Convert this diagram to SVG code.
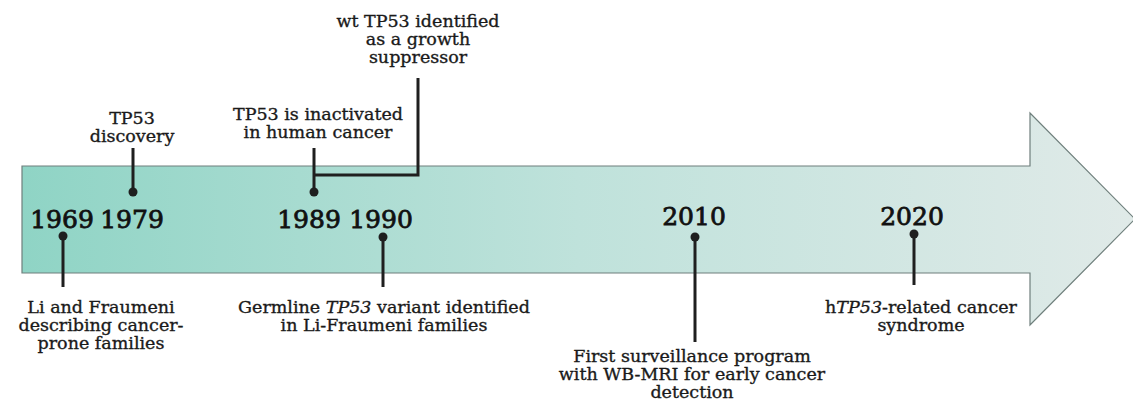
<svg xmlns="http://www.w3.org/2000/svg" width="1133" height="401" viewBox="0 0 1133 401">
<defs>
<linearGradient id="g" x1="22" y1="0" x2="1133" y2="0" gradientUnits="userSpaceOnUse">
<stop offset="0" stop-color="#8fd4c5"/>
<stop offset="0.5" stop-color="#bfe2db"/>
<stop offset="1" stop-color="#e0eae8"/>
</linearGradient>
<style>
.lbl{font-family:"DejaVu Serif","Liberation Serif",serif;font-size:17.5px;fill:#1a1a1a;text-anchor:middle;stroke:#1a1a1a;stroke-width:0.35}
.yr{font-family:"DejaVu Serif","Liberation Serif",serif;font-size:25px;fill:#111;text-anchor:middle;stroke:#111;stroke-width:0.8}
.ln{stroke:#1f1f1f;stroke-width:3;fill:none}
.dot{fill:#1f1f1f}
</style>
</defs>
<g id="arrow">
<path d="M22,166 H1030 V113 L1135,219 L1030,325 V273 H22 Z" fill="url(#g)" stroke="#6f7f7c" stroke-width="1.2"/>
</g>
<g id="connectors">
<line class="ln" x1="63" y1="236" x2="63" y2="287"/>
<circle class="dot" cx="63" cy="236" r="4.5"/>
<line class="ln" x1="133" y1="148" x2="133" y2="192"/>
<circle class="dot" cx="133" cy="192" r="4.5"/>
<polyline class="ln" points="314,148 314,192"/>
<polyline class="ln" points="314,175 418,175 418,78"/>
<circle class="dot" cx="314" cy="192" r="4.5"/>
<line class="ln" x1="383" y1="237" x2="383" y2="287"/>
<circle class="dot" cx="383" cy="237" r="4.5"/>
<line class="ln" x1="695" y1="237" x2="695" y2="342"/>
<circle class="dot" cx="695" cy="237" r="4.5"/>
<line class="ln" x1="914" y1="234" x2="914" y2="285"/>
<circle class="dot" cx="914" cy="234" r="4.5"/>
</g>
<g id="n1969">
<text class="yr" x="62" y="228">1969</text>
<text class="lbl" x="101" y="313">Li and Fraumeni</text>
<text class="lbl" x="101" y="331">describing cancer-</text>
<text class="lbl" x="101" y="349">prone families</text>
</g>
<g id="n1979">
<text class="yr" x="132" y="228">1979</text>
<text class="lbl" x="132" y="124">TP53</text>
<text class="lbl" x="132" y="142">discovery</text>
</g>
<g id="n1989">
<text class="yr" x="309" y="228">1989</text>
<text class="lbl" x="318" y="120">TP53 is inactivated</text>
<text class="lbl" x="318" y="138">in human cancer</text>
</g>
<g id="n1989b">
<text class="lbl" x="418" y="27">wt TP53 identified</text>
<text class="lbl" x="418" y="45">as a growth</text>
<text class="lbl" x="418" y="63">suppressor</text>
</g>
<g id="n1990">
<text class="yr" x="381" y="228">1990</text>
<text class="lbl" x="384" y="313">Germline <tspan font-style="italic">TP53</tspan> variant identified</text>
<text class="lbl" x="384" y="331">in Li-Fraumeni families</text>
</g>
<g id="n2010">
<text class="yr" x="694" y="225">2010</text>
<text class="lbl" x="692" y="362">First surveillance program</text>
<text class="lbl" x="692" y="380">with WB-MRI for early cancer</text>
<text class="lbl" x="692" y="398">detection</text>
</g>
<g id="n2020">
<text class="yr" x="912" y="225">2020</text>
<text class="lbl" x="921" y="313">h<tspan font-style="italic">TP53</tspan>-related cancer</text>
<text class="lbl" x="921" y="331">syndrome</text>
</g>
</svg>
